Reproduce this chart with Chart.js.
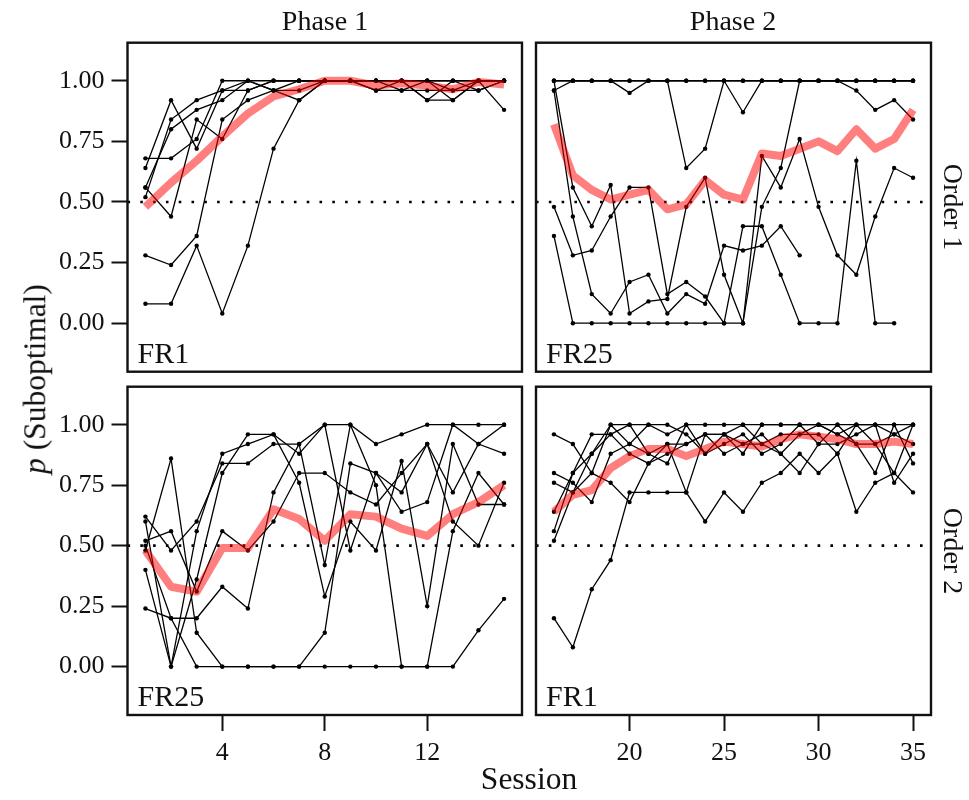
<!DOCTYPE html>
<html>
<head>
<meta charset="utf-8">
<script src="https://cdn.jsdelivr.net/npm/chart.js@4.4.1/dist/chart.umd.min.js"></script>
<style>
  body { margin: 0; background: #fff; }
  #wrap { position: relative; width: 969px; height: 800px; font-family: "Liberation Serif", serif; color: #111; }
  canvas { position: absolute; left: 0; top: 0; }
  .lbl { position: absolute; font-size: 28px; line-height: 1; white-space: nowrap; transform: translate(-50%, -50%); }
  .axis { font-size: 31.5px; }
</style>
</head>
<body>
<div id="wrap">
  <canvas id="c11" width="969" height="800"></canvas>
  <canvas id="c12" width="969" height="800"></canvas>
  <canvas id="c21" width="969" height="800"></canvas>
  <canvas id="c22" width="969" height="800"></canvas>
  <div class="lbl" style="left:325px; top:21px;">Phase 1</div>
  <div class="lbl" style="left:733px; top:21px;">Phase 2</div>
  <div class="lbl axis" style="left:529px; top:779px;">Session</div>
  <div class="lbl axis" style="left:35px; top:379px; transform:translate(-50%,-50%) rotate(-90deg);"><i>p</i> (Suboptimal)</div>
  <div class="lbl" style="left:953px; top:207px; transform:translate(-50%,-50%) rotate(90deg);">Order 1</div>
  <div class="lbl" style="left:953px; top:551px; transform:translate(-50%,-50%) rotate(90deg);">Order 2</div>
</div>
<script>
// sessions per phase
const sessionsPhase1 = [1, 2, 3, 4, 5, 6, 7, 8, 9, 10, 11, 12, 13, 14, 15];
const sessionsPhase2 = [16, 17, 18, 19, 20, 21, 22, 23, 24, 25, 26, 27, 28, 29, 30, 31, 32, 33, 34, 35];

// tick labels
const yTicks = [0, 0.25, 0.5, 0.75, 1];
const xTicksPhase1 = [4, 8, 12];
const xTicksPhase2 = [20, 25, 30, 35];
const chance = 0.5;

// Order 1, Phase 1 (FR1)
const o1p1Subjects = [
  [0.68, 0.68, 0.76, 1.00, 1.00, 1.00, 1.00, 1.00, 1.00, 1.00, 1.00, 1.00, 1.00, 1.00, 1.00],
  [0.64, 0.92, 0.72, 0.96, 1.00, 0.96, 0.92, 1.00, 1.00, 1.00, 1.00, 1.00, 0.96, 1.00, 0.88],
  [0.56, 0.44, 0.84, 0.76, 0.96, 1.00, 1.00, 1.00, 1.00, 0.96, 1.00, 0.92, 0.92, 1.00, 1.00],
  [0.52, 0.84, 0.92, 0.96, 0.96, 1.00, 1.00, 1.00, 1.00, 1.00, 0.96, 1.00, 1.00, 0.96, 1.00],
  [0.56, 0.80, 0.88, 0.92, 1.00, 0.96, 1.00, 1.00, 1.00, 0.96, 0.96, 0.96, 0.96, 0.96, 1.00],
  [0.28, 0.24, 0.36, 0.84, 0.92, 0.96, 0.96, 1.00, 1.00, 1.00, 1.00, 0.92, 1.00, 1.00, 1.00],
  [0.08, 0.08, 0.32, 0.04, 0.32, 0.72, 0.92, 1.00, 1.00, 1.00, 1.00, 1.00, 0.92, 1.00, 1.00]
];
const o1p1Mean = [0.48, 0.58, 0.67, 0.77, 0.865, 0.935, 0.965, 1.00, 1.00, 0.98, 0.99, 0.98, 0.965, 0.995, 0.985];

// Order 1, Phase 2 (FR25)
const o1p2Subjects = [
  [0.96, 1.00, 1.00, 1.00, 0.95, 1.00, 1.00, 0.64, 0.72, 1.00, 0.87, 1.00, 1.00, 1.00, 1.00, 1.00, 1.00, 1.00, 1.00, 1.00],
  [1.00, 1.00, 1.00, 1.00, 1.00, 1.00, 1.00, 1.00, 1.00, 1.00, 1.00, 1.00, 1.00, 1.00, 1.00, 1.00, 0.96, 0.88, 0.92, 0.84],
  [1.00, 1.00, 1.00, 1.00, 1.00, 1.00, 1.00, 1.00, 1.00, 1.00, 1.00, 1.00, 1.00, 1.00, 1.00, 1.00, 1.00, 1.00, 1.00, 1.00],
  [1.00, 0.56, 0.40, 0.57, 0.04, 0.09, 0.10, 0.48, 0.60, 0.20, 0.00, 0.69, 0.56, 0.76, 0.48, 0.28, 0.20, 0.44, 0.64, 0.60],
  [0.96, 0.44, 0.12, 0.04, 0.17, 0.20, 0.04, 0.12, 0.08, 0.32, 0.30, 0.32, 0.40, 0.28, null, null, null, null, null, null],
  [0.48, 0.28, 0.30, 0.44, 0.56, 0.56, 0.12, 0.17, 0.11, 0.00, 0.40, 0.40, 0.20, 0.00, 0.00, 0.00, 0.67, 0.00, 0.00, null],
  [0.36, 0.00, 0.00, 0.00, 0.00, 0.00, 0.00, 0.00, 0.00, 0.00, 0.00, 0.48, 0.64, 1.00, 1.00, 1.00, 1.00, 1.00, 1.00, 1.00]
];
const o1p2Mean = [0.82, 0.61, 0.55, 0.51, 0.53, 0.55, 0.47, 0.49, 0.59, 0.53, 0.51, 0.70, 0.69, 0.72, 0.75, 0.71, 0.80, 0.72, 0.76, 0.88];

// Order 2, Phase 1 (FR25)
const o2p1Subjects = [
  [0.24, 0.20, 0.20, 0.33, 0.24, 0.72, 0.92, 1.00, 1.00, 0.92, 0.96, 1.00, 1.00, 1.00, 1.00],
  [0.40, 0.00, 0.56, 0.88, 0.92, 0.96, 0.88, 1.00, 0.48, 0.80, 0.72, 0.92, 0.72, 0.92, 1.00],
  [0.62, 0.48, 0.60, 0.84, 0.84, 0.92, 0.92, 0.42, 1.00, 0.75, 0.00, 0.00, 0.56, 0.80, 0.67],
  [0.60, 0.00, 0.36, 0.80, 0.96, 0.96, 0.76, 0.29, 0.60, 0.48, 0.85, 0.25, 0.92, 0.67, 0.67],
  [0.52, 0.56, 0.31, 0.56, 0.48, 0.60, 0.80, 0.80, 0.72, 0.67, 0.80, 0.92, 0.60, 0.50, 0.76],
  [0.50, 0.20, 0.00, 0.00, 0.00, 0.00, 0.00, 0.14, 0.84, 0.80, 0.64, 0.68, 1.00, 0.92, 0.88],
  [0.48, 0.86, 0.14, 0.00, 0.00, 0.00, 0.00, 0.00, 0.00, 0.00, 0.00, 0.00, 0.00, 0.15, 0.28]
];
const o2p1Mean = [0.48, 0.33, 0.31, 0.49, 0.49, 0.65, 0.61, 0.52, 0.63, 0.62, 0.57, 0.54, 0.63, 0.68, 0.75];

// Order 2, Phase 2 (FR1)
const o2p2Subjects = [
  [0.20, 0.08, 0.32, 0.44, 0.72, 0.72, 0.72, 0.72, 0.60, 0.72, 0.64, 0.76, 0.80, 0.88, 0.80, 0.88, 0.64, 0.76, 0.80, 0.72],
  [0.96, 0.92, 0.80, 1.00, 1.00, 1.00, 0.96, 1.00, 1.00, 1.00, 1.00, 1.00, 1.00, 1.00, 1.00, 1.00, 1.00, 1.00, 1.00, 1.00],
  [0.80, 0.76, 0.68, 0.88, 0.92, 1.00, 1.00, 0.96, 0.88, 0.92, 0.96, 0.88, 0.92, 1.00, 0.92, 0.92, 0.96, 1.00, 0.76, 0.88],
  [0.76, 0.72, 0.80, 0.76, 0.68, 0.84, 0.88, 0.92, 0.96, 0.88, 0.92, 0.92, 0.96, 0.96, 1.00, 0.96, 0.92, 0.80, 1.00, 0.84],
  [0.64, 0.80, 0.88, 0.96, 1.00, 0.88, 0.84, 1.00, 0.88, 0.96, 1.00, 0.92, 0.88, 0.80, 0.92, 1.00, 0.92, 0.92, 0.80, 1.00],
  [0.56, 0.80, 0.96, 0.96, 0.88, 0.84, 0.92, 0.92, 0.96, 0.96, 0.92, 0.96, 0.88, 0.96, 0.96, 0.88, 1.00, 0.92, 0.96, 0.92],
  [0.52, 0.72, 0.88, 1.00, 0.92, 0.88, 0.92, 0.72, 0.96, 0.96, 0.88, 1.00, 1.00, 1.00, 1.00, 0.96, 1.00, 1.00, 0.96, 1.00]
];
const o2p2Mean = [0.64, 0.71, 0.73, 0.82, 0.87, 0.90, 0.90, 0.87, 0.90, 0.93, 0.92, 0.91, 0.94, 0.96, 0.95, 0.94, 0.92, 0.92, 0.93, 0.92];

const serif = "'Liberation Serif', serif";
const ink = "#111";

// box around each facet plus the schedule tag in its corner
const facetFrame = {
  id: "facetFrame",
  afterDraw(chart, args, opts) {
    const { ctx, chartArea: a } = chart;
    ctx.save();
    ctx.lineWidth = 2.4;
    ctx.strokeStyle = ink;
    ctx.strokeRect(a.left, a.top, a.right - a.left, a.bottom - a.top);
    ctx.font = "30px " + serif;
    ctx.fillStyle = ink;
    ctx.textBaseline = "alphabetic";
    ctx.fillText(opts.text, a.left + 10, a.bottom - 9);
    ctx.restore();
  }
};

function facet(id, p) {
  const pts = vals => p.sessions
    .map((s, i) => ({ x: s, y: vals[i] }))
    .filter(d => d.y !== null);

  const datasets = [
    {
      data: pts(p.mean),
      borderColor: "rgba(255, 0, 0, 0.5)",
      borderWidth: 8,
      borderJoinStyle: "round",
      pointRadius: 0,
      order: 0
    },
    ...p.subjects.map(v => ({
      data: pts(v),
      borderColor: "#000",
      borderWidth: 1.3,
      pointRadius: 2.2,
      pointBackgroundColor: "#000",
      pointBorderWidth: 0,
      order: 1
    })),
    {
      data: [{ x: p.xMin, y: chance }, { x: p.xMax, y: chance }],
      borderColor: "#000",
      borderWidth: 2.6,
      borderDash: [2.6, 10.2],
      pointRadius: 0,
      order: 2
    }
  ];

  const f = p.frame;
  const showX = !!p.xTicks;
  return new Chart(document.getElementById(id), {
    type: "line",
    data: { datasets },
    options: {
      responsive: false,
      animation: false,
      layout: {
        padding: {
          left: p.showY ? f.left - 75 : f.left,
          right: 969 - f.right,
          top: f.top,
          bottom: showX ? 800 - f.bottom - 60 : 800 - f.bottom
        }
      },
      plugins: {
        legend: { display: false },
        tooltip: { enabled: false },
        facetFrame: { text: p.label }
      },
      scales: {
        x: {
          type: "linear",
          min: p.xMin,
          max: p.xMax,
          display: showX,
          afterBuildTicks: s => { if (showX) s.ticks = p.xTicks.map(v => ({ value: v })); },
          afterFit: s => { s.height = showX ? 60 : 0; },
          ticks: { font: { family: serif, size: 26 }, color: ink, padding: 7, callback: v => String(v) },
          grid: { drawOnChartArea: false, tickLength: 16, tickWidth: 2, tickColor: ink },
          border: { display: false }
        },
        y: {
          type: "linear",
          min: -0.2,
          max: 1.157,
          display: p.showY,
          afterBuildTicks: s => { s.ticks = yTicks.map(v => ({ value: v })); },
          afterFit: s => { s.width = p.showY ? 75 : 0; },
          ticks: { font: { family: serif, size: 26 }, color: ink, padding: 7, callback: v => v.toFixed(2) },
          grid: { drawOnChartArea: false, tickLength: 16, tickWidth: 2, tickColor: ink },
          border: { display: false }
        }
      }
    },
    plugins: [facetFrame]
  });
}

const leftCol = { left: 127.5, right: 522 };
const rightCol = { left: 536, right: 931 };
const topRow = { top: 42.7, bottom: 371.7 };
const bottomRow = { top: 386.7, bottom: 715 };

facet("c11", {
  sessions: sessionsPhase1, subjects: o1p1Subjects, mean: o1p1Mean,
  xMin: 0.3, xMax: 15.7, xTicks: null, showY: true, label: "FR1",
  frame: { ...leftCol, ...topRow }
});
facet("c12", {
  sessions: sessionsPhase2, subjects: o1p2Subjects, mean: o1p2Mean,
  xMin: 15.05, xMax: 35.95, xTicks: null, showY: false, label: "FR25",
  frame: { ...rightCol, ...topRow }
});
facet("c21", {
  sessions: sessionsPhase1, subjects: o2p1Subjects, mean: o2p1Mean,
  xMin: 0.3, xMax: 15.7, xTicks: xTicksPhase1, showY: true, label: "FR25",
  frame: { ...leftCol, ...bottomRow }
});
facet("c22", {
  sessions: sessionsPhase2, subjects: o2p2Subjects, mean: o2p2Mean,
  xMin: 15.05, xMax: 35.95, xTicks: xTicksPhase2, showY: false, label: "FR1",
  frame: { ...rightCol, ...bottomRow }
});
</script>
</body>
</html>
